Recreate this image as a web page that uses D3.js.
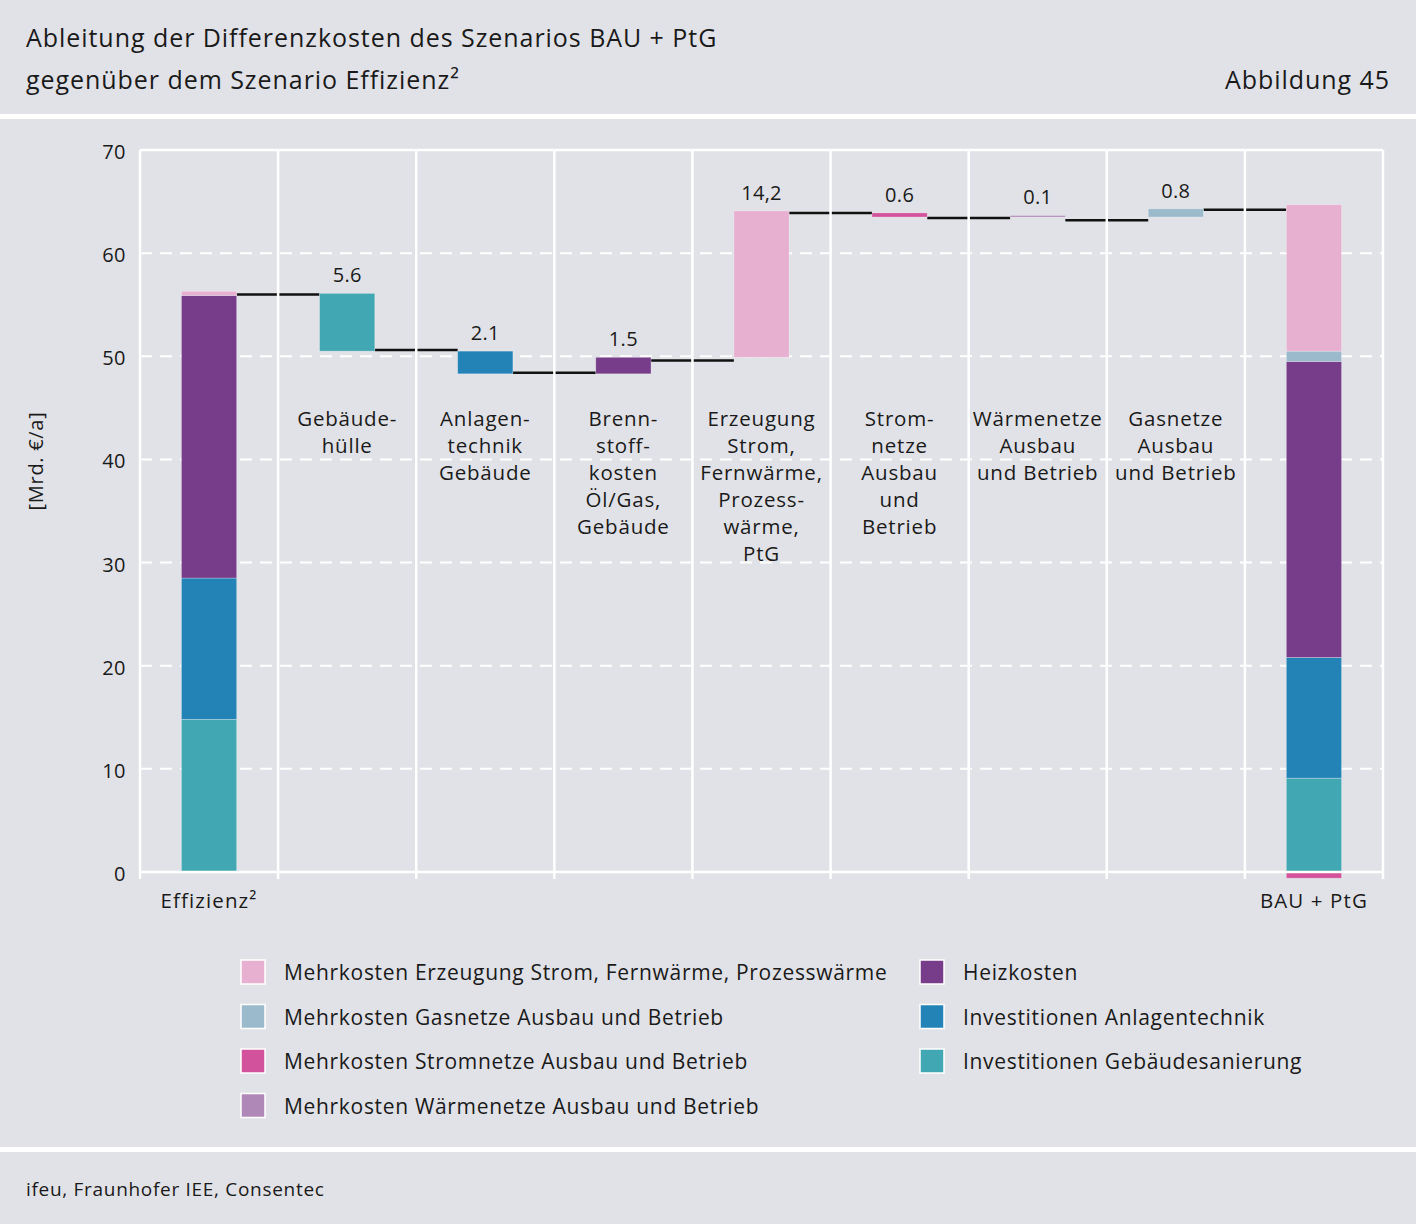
<!DOCTYPE html>
<html><head><meta charset="utf-8">
<script src="https://cdn.jsdelivr.net/npm/d3@7"></script>
<style>
html,body{margin:0;padding:0;background:#e1e2e7;}
svg{display:block;}
text{font-family:"Open Sans",sans-serif;fill:#1a1a1a;}
</style></head><body>
<script>
// ---------- data ----------
const categories = ["Effizienz²","Gebäudehülle","Anlagentechnik","Brennstoffkosten","Erzeugung","Stromnetze","Wärmenetze","Gasnetze","BAU + PtG"];
const categoryLines = [
  [],
  ["Gebäude-","hülle"],
  ["Anlagen-","technik","Gebäude"],
  ["Brenn-","stoff-","kosten","Öl/Gas,","Gebäude"],
  ["Erzeugung","Strom,","Fernwärme,","Prozess-","wärme,","PtG"],
  ["Strom-","netze","Ausbau","und","Betrieb"],
  ["Wärmenetze","Ausbau","und Betrieb"],
  ["Gasnetze","Ausbau","und Betrieb"],
  []
];
const seriesNames = ["Investitionen Gebäudesanierung","Investitionen Anlagentechnik","Heizkosten","Mehrkosten Gasnetze Ausbau und Betrieb","Mehrkosten Erzeugung Strom, Fernwärme, Prozesswärme","Mehrkosten Stromnetze Ausbau und Betrieb","Mehrkosten Wärmenetze Ausbau und Betrieb"];
const seriesColors = ["#41a7b3","#2383b6","#773d8a","#9bbacc","#e7b0d1","#d2529b","#b088b8"];
const effizienzValues = [14.8, 13.7, 27.4, 0, 0.4, 0, 0];
const bauValues = [9.1, 11.7, 28.7, 1.0, 14.2, -0.6, 0];
// waterfall steps (categories 1..7)
const stepLow   = [50.5, 48.3, 48.3, 49.9, 63.5, 63.5, 63.5];
const stepHigh  = [56.1, 50.5, 49.9, 64.1, 63.9, 63.65, 64.3];
const stepSeries= [0, 1, 2, 4, 5, 6, 3];
const stepLabels= ["5.6","2.1","1.5","14,2","0.6","0.1","0.8"];
// connector levels between category i and i+1
const connectorLevels = [56.0, 50.6, 48.4, 49.6, 63.9, 63.4, 63.2, 64.2];
const yTicks = [0,10,20,30,40,50,60,70];
const legendLeft = [4,3,5,6];
const legendRight = [2,1,0];

// ---------- drawing ----------
(function(){
const W = 1416, H = 1224;
const svg = d3.select("body").append("svg").attr("width", W).attr("height", H);
svg.append("rect").attr("width", W).attr("height", H).attr("fill", "#e1e2e7");

// header
svg.append("text").attr("x", 26).attr("y", 47).attr("font-size", 25).attr("letter-spacing", 0.95).text("Ableitung der Differenzkosten des Szenarios BAU + PtG");
svg.append("text").attr("x", 26).attr("y", 89).attr("font-size", 25).attr("letter-spacing", 0.95).text("gegenüber dem Szenario Effizienz²");
svg.append("text").attr("x", 1390).attr("y", 89).attr("font-size", 25).attr("letter-spacing", 0.95).attr("text-anchor", "end").text("Abbildung 45");
svg.append("rect").attr("x", 0).attr("y", 114).attr("width", W).attr("height", 5).attr("fill", "#fff");
svg.append("rect").attr("x", 0).attr("y", 1147).attr("width", W).attr("height", 5).attr("fill", "#fff");
svg.append("text").attr("x", 26).attr("y", 1196).attr("font-size", 19).attr("letter-spacing", 0.7).text("ifeu, Fraunhofer IEE, Consentec");

const pL = 140, pR = 1383, pT = 150, pB = 872;
const x = d3.scaleBand().domain(categories).range([pL, pR]).paddingInner(0.6).paddingOuter(0.3);
const y = d3.scaleLinear().domain([0, 70]).range([pB, pT]);
const step = x.step();
const bw = x.bandwidth();

// dashed horizontal gridlines
svg.append("g").selectAll("line").data(yTicks.filter(t => t > 0 && t < 70)).join("line")
  .attr("x1", pL).attr("x2", pR).attr("y1", d => y(d)).attr("y2", d => y(d))
  .attr("stroke", "#fff").attr("stroke-width", 2).attr("stroke-dasharray", "12,8");

// y tick labels
svg.append("g").selectAll("text").data(yTicks).join("text")
  .attr("x", 126).attr("y", d => y(d) + 2).attr("dy", "0.35em").attr("text-anchor", "end")
  .attr("font-size", 20).attr("letter-spacing", 0.5).text(d => d);
svg.append("text").attr("transform", `translate(43,461) rotate(-90)`)
  .attr("text-anchor", "middle").attr("font-size", 20).attr("letter-spacing", 0.7).text("[Mrd. €/a]");

// connectors (drawn before vertical gridlines so gridlines cut them)
svg.append("g").selectAll("line").data(connectorLevels).join("line")
  .attr("x1", (d, i) => x(categories[i]) + bw)
  .attr("x2", (d, i) => x(categories[i + 1]))
  .attr("y1", d => y(d)).attr("y2", d => y(d))
  .attr("stroke", "#111").attr("stroke-width", 2.5);

// vertical gridlines at band boundaries
const bounds = d3.range(categories.length + 1).map(i => pL + i * step);
svg.append("g").selectAll("line").data(bounds).join("line")
  .attr("x1", d => d).attr("x2", d => d).attr("y1", pT).attr("y2", pB + 7)
  .attr("stroke", "#fff").attr("stroke-width", 2.5);
svg.append("line").attr("x1", pL).attr("x2", pR).attr("y1", pT).attr("y2", pT).attr("stroke", "#fff").attr("stroke-width", 2.5);

// stacked bars
function stackBar(cat, vals) {
  let pos = 0, neg = 0;
  const segs = [];
  vals.forEach((v, i) => {
    if (v > 0) { segs.push({ i, y0: pos, y1: pos + v }); pos += v; }
    else if (v < 0) { segs.push({ i, y0: neg + v, y1: neg }); neg += v; }
  });
  svg.append("g").selectAll("rect").data(segs).join("rect")
    .attr("x", x(cat)).attr("width", bw)
    .attr("y", d => y(d.y1)).attr("height", d => y(d.y0) - y(d.y1))
    .attr("fill", d => seriesColors[d.i])
    .attr("stroke", "rgba(255,255,255,0.35)").attr("stroke-width", 0.8);
}
stackBar(categories[0], effizienzValues);
stackBar(categories[8], bauValues);

// waterfall step bars
const steps = stepLow.map((lo, k) => ({ cat: categories[k + 1], lo, hi: stepHigh[k], s: stepSeries[k], label: stepLabels[k] }));
svg.append("g").selectAll("rect").data(steps).join("rect")
  .attr("x", d => x(d.cat)).attr("width", bw)
  .attr("y", d => y(d.hi)).attr("height", d => y(d.lo) - y(d.hi))
  .attr("fill", d => seriesColors[d.s])
  .attr("stroke", "rgba(255,255,255,0.35)").attr("stroke-width", 0.8);
svg.append("g").selectAll("text").data(steps).join("text")
  .attr("x", d => x(d.cat) + bw / 2).attr("y", d => y(d.hi) - 11)
  .attr("text-anchor", "middle").attr("font-size", 20).attr("letter-spacing", 0.3).text(d => d.label);

// bottom axis line
svg.append("line").attr("x1", pL).attr("x2", pR).attr("y1", pB).attr("y2", pB).attr("stroke", "#fff").attr("stroke-width", 2.5);

// category labels
categories.forEach((c, i) => {
  const t = svg.append("text").attr("x", x(c) + bw / 2).attr("y", 426).attr("text-anchor", "middle").attr("font-size", 20.5).attr("letter-spacing", 0.8);
  categoryLines[i].forEach((ln, j) => t.append("tspan").attr("x", x(c) + bw / 2).attr("dy", j === 0 ? 0 : 27).text(ln));
});
svg.append("text").attr("x", x(categories[0]) + bw / 2).attr("y", 908).attr("text-anchor", "middle").attr("font-size", 20.5).attr("letter-spacing", 1.1).text("Effizienz²");
svg.append("text").attr("x", x(categories[8]) + bw / 2).attr("y", 908).attr("text-anchor", "middle").attr("font-size", 20.5).attr("letter-spacing", 1.1).text("BAU + PtG");

// legend
function legendCol(list, lx, ty) {
  const g = svg.append("g").selectAll("g").data(list).join("g")
    .attr("transform", (d, k) => `translate(${lx},${ty + k * 44.5})`);
  g.append("rect").attr("x", 0).attr("y", -12).attr("width", 24).attr("height", 24)
    .attr("fill", d => seriesColors[d]).attr("stroke", "#fff").attr("stroke-width", 1.5);
  g.append("text").attr("x", 43).attr("y", 1).attr("dy", "0.35em").attr("font-size", 21).attr("letter-spacing", 0.68).text(d => seriesNames[d]);
}
legendCol(legendLeft, 241, 972);
legendCol(legendRight, 920, 972);
})();
</script>
</body></html>
